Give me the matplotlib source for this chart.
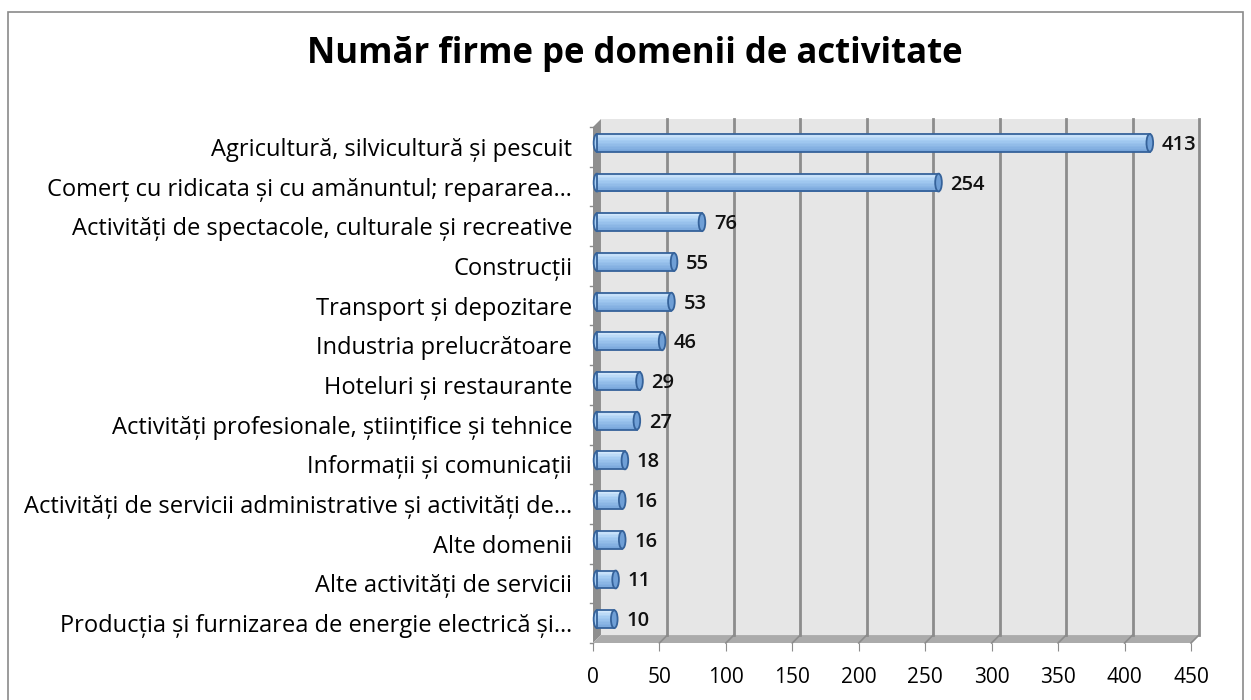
import numpy as np
import matplotlib.pyplot as plt
from matplotlib.patches import Polygon, Ellipse, Rectangle

categories = [
    "Agricultură, silvicultură și pescuit",
    "Comerț cu ridicata și cu amănuntul; repararea…",
    "Activități de spectacole, culturale și recreative",
    "Construcții",
    "Transport și depozitare",
    "Industria prelucrătoare",
    "Hoteluri și restaurante",
    "Activități profesionale, științifice și tehnice",
    "Informații și comunicații",
    "Activități de servicii administrative și activități de…",
    "Alte domenii",
    "Alte activități de servicii",
    "Producția și furnizarea de energie electrică și…",
]
values = [413, 254, 76, 55, 53, 46, 29, 27, 18, 16, 16, 11, 10]
xticks = [0, 50, 100, 150, 200, 250, 300, 350, 400, 450]
title = "Număr firme pe domenii de activitate"

plt.rcParams['font.family'] = ['Open Sans', 'DejaVu Sans']

fig = plt.figure(figsize=(12.51, 7), dpi=100)
# outer chart border
fig.patches.append(Rectangle((8 / 1251, -0.1), 1235 / 1251, 1 - 12 / 700 + 0.1,
                             transform=fig.transFigure, fill=False,
                             edgecolor='#8a8a8a', lw=1.2))

ax = fig.add_axes([593 / 1251, 1 - 643 / 700, 598 / 1251, 516 / 700])
n = len(categories)
xmax = 450
ax.set_xlim(0, xmax)
ax.set_ylim(n - 0.5, -0.5)

dx, dy = 6, -0.2  # depth offset of the 3d walls
# back wall
ax.add_patch(Polygon([(dx, -0.5 + dy), (xmax + dx, -0.5 + dy), (xmax + dx, n - 0.5 + dy),
                      (dx, n - 0.5 + dy)], closed=True, facecolor='#e6e6e6',
                     edgecolor='none', clip_on=False, zorder=0))
# left wall
ax.add_patch(Polygon([(0, -0.5), (dx, -0.5 + dy), (dx, n - 0.5 + dy), (0, n - 0.5)],
                     closed=True, facecolor='#8f8f8f', edgecolor='none',
                     clip_on=False, zorder=1))
# floor
ax.add_patch(Polygon([(0, n - 0.5), (dx, n - 0.5 + dy), (xmax + dx, n - 0.5 + dy),
                      (xmax, n - 0.5)], closed=True, facecolor='#ababab',
                     edgecolor='none', clip_on=False, zorder=1))
for t in xticks[1:]:
    ax.plot([t + dx, t + dx], [-0.5 + dy, n - 0.5 + dy], color='#8c8c8c', lw=2,
            clip_on=False, zorder=1)
    ax.plot([t, t + dx], [n - 0.5, n - 0.5 + dy], color='#8c8c8c', lw=1.2,
            clip_on=False, zorder=1)

# cylinder bars: smooth vertical shading, light top, darker bottom
bh = 0.45
nstrip = 12
top_c = np.array([0xd2, 0xe8, 0xfc]) / 255
mid_c = np.array([0xa6, 0xcd, 0xf3]) / 255
bot_c = np.array([0x78, 0xa6, 0xdb]) / 255
ys = [i - 0.1 for i in range(n)]
for y, v in zip(ys, values):
    left, right = 3, v + 6
    ax.add_patch(Ellipse((left, y), 5, bh, facecolor='#a6cdf3', edgecolor='#35629a',
                         lw=1.3, zorder=3, clip_on=False))
    for k in range(nstrip):
        f = k / (nstrip - 1)
        c = top_c + (mid_c - top_c) * (f / 0.35) if f < 0.35 else \
            mid_c + (bot_c - mid_c) * ((f - 0.35) / 0.65)
        yy = y - bh / 2 + bh * (k + 0.5) / nstrip
        ax.barh(yy, right - left, left=left, height=bh / nstrip * 1.05,
                color=c, edgecolor='none', zorder=3)
    ax.barh(y, right - left, left=left, height=bh, color='none',
            edgecolor='#35629a', lw=1.3, zorder=4)
    ax.add_patch(Ellipse((right, y), 5, bh, facecolor='#6f9fd6', edgecolor='#35629a',
                         lw=1.3, zorder=5, clip_on=False))
    ax.text(v + 15, y + 0.05, str(v), va='center', ha='left', fontsize=14.5,
            fontweight='semibold', color='#111111')

for s in ax.spines.values():
    s.set_visible(False)
ax.set_yticks(range(n))
ax.set_yticklabels(categories, fontsize=17)
ax.tick_params(axis='y', length=0, pad=15)
for b in range(n + 1):
    ax.plot([-2.5, 0], [b - 0.5, b - 0.5], color='#8c8c8c', lw=1, clip_on=False)
ax.set_xticks(xticks)
ax.set_xticklabels([str(t) for t in xticks], fontsize=15)
ax.tick_params(axis='x', length=6, color='#8c8c8c', pad=11)

fig.text(635 / 1251, 1 - 63 / 700, title, ha='center', va='baseline', fontsize=25,
         fontweight='bold')

fig.savefig("out.png", dpi=100)
